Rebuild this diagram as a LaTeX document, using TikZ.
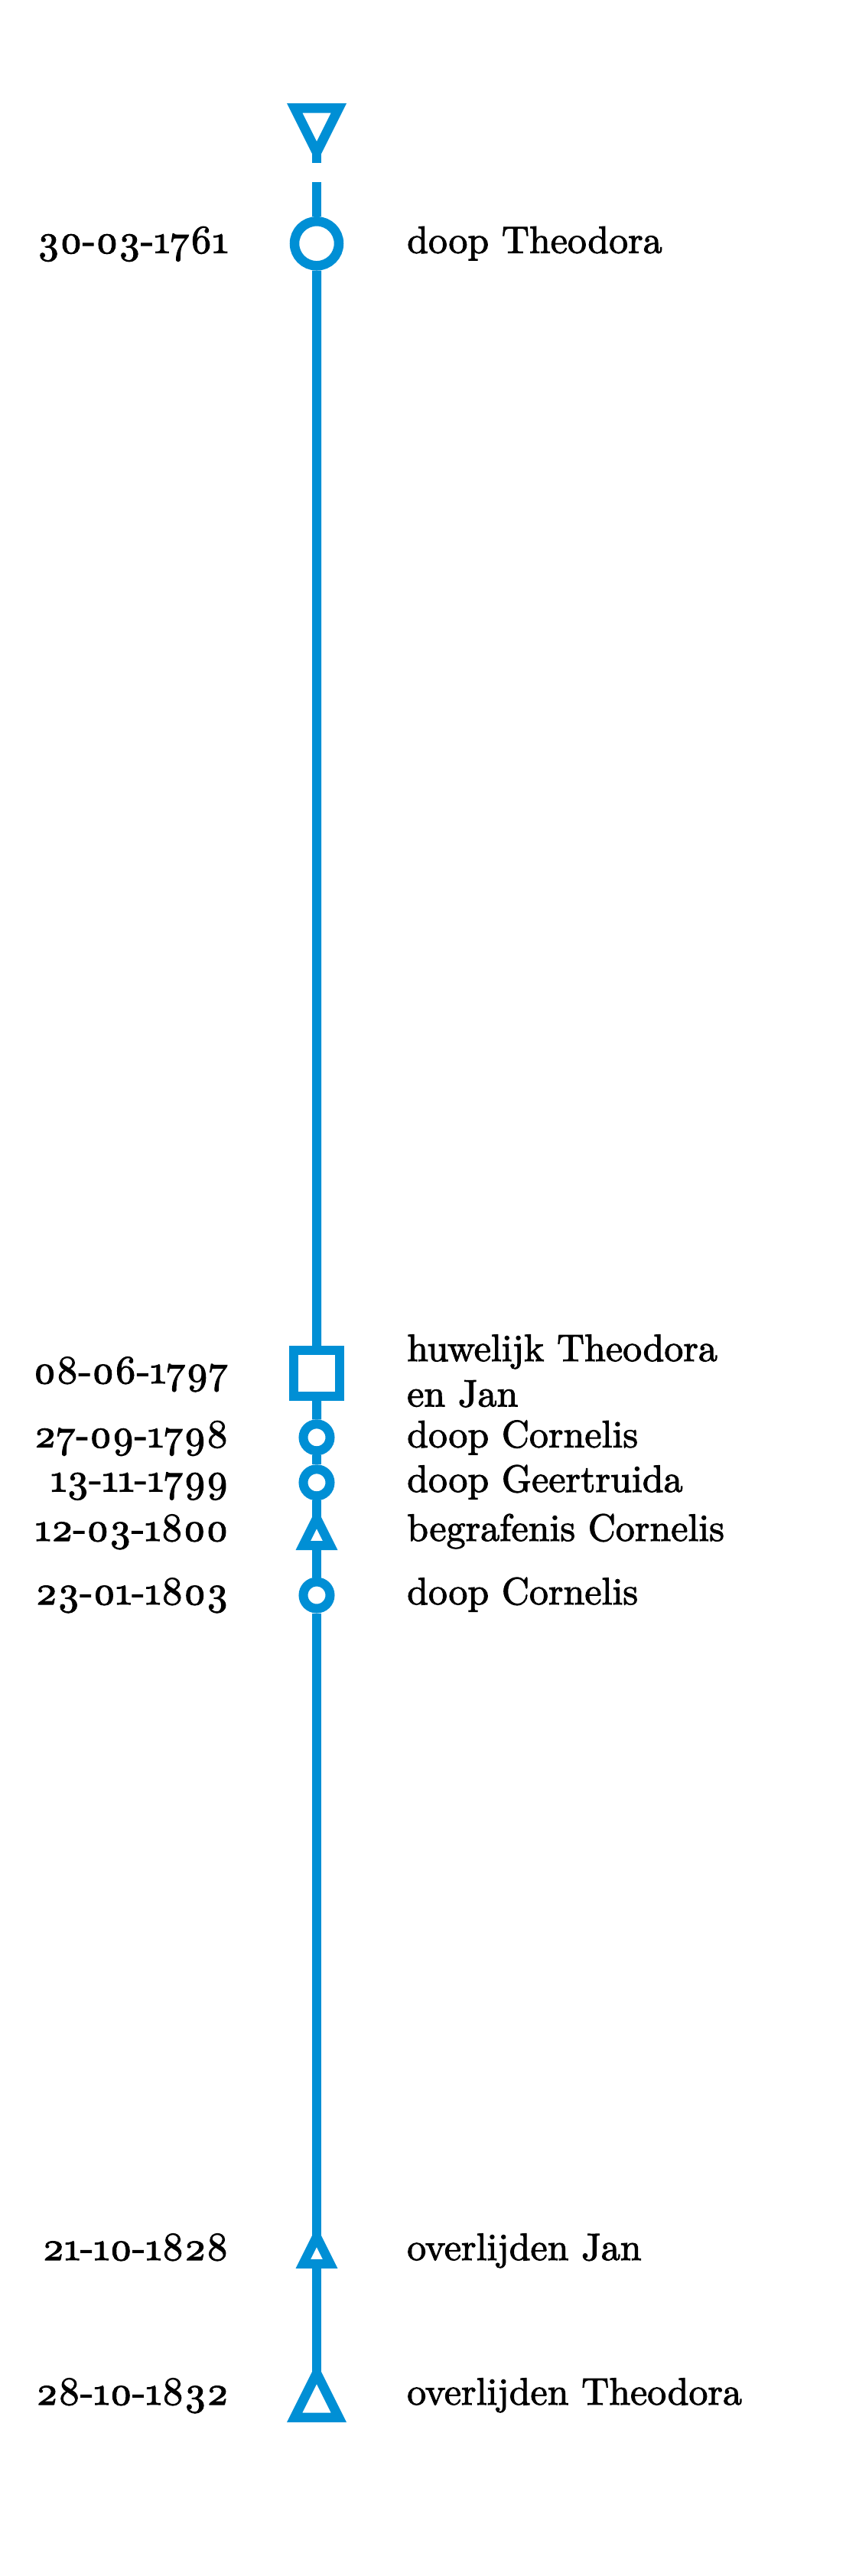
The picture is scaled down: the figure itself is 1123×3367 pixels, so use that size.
\documentclass[tikz,border=0pt]{standalone}
\usepackage{fontspec}
\setmainfont{lmroman10-regular}[Extension=.otf,FakeBold=2]
\definecolor{tlblue}{RGB}{0,143,213}
\newcount\osgidx
\newcommand\osg[2]{\osgidx=\XeTeXglyphindex "#1.oldstyle" \relax\ifnum\osgidx>0 \XeTeXglyph\osgidx\else{\usefont{OML}{lmm}{m}{it}#2}\fi}
\def\osd#1{\ifcase#1 \osg{zero}{0}\or\osg{one}{1}\or\osg{two}{2}\or\osg{three}{3}\or\osg{four}{4}\or\osg{five}{5}\or\osg{six}{6}\or\osg{seven}{7}\or\osg{eight}{8}\or\osg{nine}{9}\fi}
\def\odend{\odend}
\def\odate#1{\odloop#1\odend}
\def\odloop#1{\ifx#1\odend\else\odone#1\expandafter\odloop\fi}
\def\odone#1{\if#1-\char45 \else\osd#1\fi}
\begin{document}
\begin{tikzpicture}[x=1pt,y=-1pt,
  tl/.style={draw=tlblue,line width=12pt},
  bigring/.style={circle,draw=tlblue,fill=white,line width=12.5pt,minimum size=58pt,inner sep=0pt},
  smallring/.style={circle,draw=tlblue,fill=white,line width=12pt,minimum size=35pt,inner sep=0pt},
  squarebox/.style={rectangle,draw=tlblue,fill=white,line width=12pt,minimum size=59.5pt,inner sep=0pt},
  datetext/.style={anchor=base east,inner sep=0pt,font=\fontsize{52}{59}\selectfont},
  evtext/.style={anchor=base west,inner sep=0pt,font=\fontsize{50}{59}\selectfont}]
\useasboundingbox (0,0) rectangle (1123,3367);

% top marker (downward triangle)
\fill[white] (395.25,147.5) -- (432.75,147.5) -- (414,185) -- cycle;
\fill[tlblue,even odd rule] (375,135) -- (453,135) -- (414,213) -- cycle
  (395.25,147.5) -- (432.75,147.5) -- (414,185) -- cycle;
\coordinate (t0in) at (414,195);
\coordinate (t0) at (414,213);
\draw[tl] (t0in) -- (t0);
\coordinate (lstart) at (414,238);

% markers
\node[bigring] (e1) at (414,318.3) {};
\draw[tl] (lstart) -- (e1);
\node[squarebox] (e2) at (414.2,1795) {};
\draw[tl] (e1) -- (e2);
\node[smallring] (e3) at (414,1878.8) {};
\draw[tl] (e2) -- (e3);
\node[smallring] (e4) at (414,1937.8) {};
\draw[tl] (e3) -- (e4);

% small triangle 12-03-1800
\coordinate (e5top) at (414,1984);
\coordinate (e5) at (414,2026);
\draw[tl] (e4) -- (e5top);
\fill[white] (406,2014) -- (422,2014) -- (414,1998) -- cycle;
\fill[tlblue,even odd rule] (386.5,2026) -- (441.5,2026) -- (414,1971) -- cycle
  (406,2014) -- (422,2014) -- (414,1998) -- cycle;

\node[smallring] (e6) at (414,2085) {};
\draw[tl] (e5) -- (e6);

% small triangle 21-10-1828
\coordinate (e7top) at (414,2923);
\coordinate (e7) at (414,2965);
\draw[tl] (e6) -- (e7top);
\fill[white] (406,2953) -- (422,2953) -- (414,2937) -- cycle;
\fill[tlblue,even odd rule] (386.5,2965) -- (441.5,2965) -- (414,2910) -- cycle
  (406,2953) -- (422,2953) -- (414,2937) -- cycle;

% big triangle 28-10-1832
\coordinate (e8top) at (414,3104);
\draw[tl] (e7) -- (e8top);
\fill[white] (395.25,3153.5) -- (432.75,3153.5) -- (414,3116) -- cycle;
\fill[tlblue,even odd rule] (375,3166) -- (453,3166) -- (414,3088) -- cycle
  (395.25,3153.5) -- (432.75,3153.5) -- (414,3116) -- cycle;

% dates
\node[datetext] (d1) at (299,330.7) {\odate{30-03-1761}};
\node[datetext] (d2) at (299,1808) {\odate{08-06-1797}};
\node[datetext] (d3) at (299,1891.7) {\odate{27-09-1798}};
\node[datetext] (d4) at (299,1949.5) {\odate{13-11-1799}};
\node[datetext] (d5) at (299,2014) {\odate{12-03-1800}};
\node[datetext] (d6) at (299,2097) {\odate{23-01-1803}};
\node[datetext] (d7) at (299,2954) {\odate{21-10-1828}};
\node[datetext] (d8) at (299,3143) {\odate{28-10-1832}};

% events
\node[evtext] (l1) at (532,330.7) {doop Theodora};
\node[evtext] (l2a) at (532,1779) {huwelijk Theodora};
\node[evtext] (l2b) at (532,1838.3) {en Jan};
\node[evtext] (l3) at (532,1891.7) {doop Cornelis};
\node[evtext] (l4) at (532,1950) {doop Geertruida};
\node[evtext] (l5) at (532,2014) {begrafenis Cornelis};
\node[evtext] (l6) at (532,2097) {doop Cornelis};
\node[evtext] (l7) at (532,2954) {overlijden Jan};
\node[evtext] (l8) at (532,3143) {overlijden Theodora};
\end{tikzpicture}
\end{document}
